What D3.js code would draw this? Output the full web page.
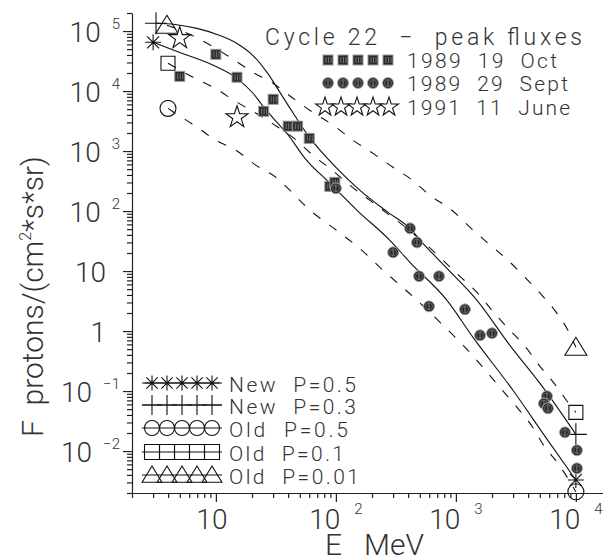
<!DOCTYPE html>
<meta charset="utf-8">
<script src="https://d3js.org/d3.v7.min.js"></script>
<style>
  body { margin: 0; background: #fff; }
  text { font-family: Roboto, "DejaVu Sans", sans-serif; font-weight: 300; fill: #333; white-space: pre; }
</style>
<body>
<div id="my_dataviz"></div>
<script>
// ---- values ----
// measured events (E in MeV, F in protons/(cm2*s*sr))
var oct19E  = [5, 10, 15, 25, 30, 40, 48, 60, 89, 98];
var oct19F  = [1.76e4, 4.1e4, 1.7e4, 4.6e3, 7.3e3, 2.6e3, 2.6e3, 1.63e3, 258, 301];
var sept29E = [100, 300, 415, 474, 493, 723, 597, 1190, 1590, 2000, 5740, 5420, 5850, 8110, 10200, 10200];
var sept29F = [239, 20.5, 51.5, 30, 8.2, 8.2, 2.58, 2.3, 0.85, 0.92, 0.082, 0.062, 0.0515, 0.0205, 0.0103, 0.00515];
var june11E = [5, 15];
var june11F = [7.6e4, 3.65e3];

// model curves
var newP05E = [3.0, 5.0, 9.5, 15, 20.4, 24.7, 32.3, 39.1, 55.3, 89.3, 150, 282, 414, 843, 1390, 2990, 5530, 1e4];
var newP05F = [6.5e4, 4.4e4, 2.7e4, 1.63e4, 9.2e3, 5.6e3, 3.0e3, 1.97e3, 757, 290, 103, 32.5, 14.0, 3.25, 0.785, 0.103, 0.0176, 0.0033];
var newP03E = [3.17, 4.56, 6.96, 10.2, 15, 20.4, 26.7, 34.2, 41.4, 58.6, 102, 159, 272, 414, 532, 843, 1500, 2820, 5320, 1e4];
var newP03F = [1.35e5, 1.29e5, 1.11e5, 8.8e4, 6.2e4, 3.9e4, 2.05e4, 9.5e3, 5.2e3, 1.83e3, 515, 221, 95, 51.5, 29, 11.1, 3.25, 0.578, 0.115, 0.019];
var oldP05E = [3.99, 4.48, 6.83, 10, 14.7, 21.6, 31.7, 41.4, 57.4, 115, 165, 233, 329, 456, 737, 1260, 1680, 2330, 3230, 4150, 5530, 7090, 1e4];
var oldP05F = [5.15e3, 4.4e3, 2.58e3, 1.51e3, 1.03e3, 578, 365, 221, 115, 39.4, 22.1, 11.5, 6.24, 3.51, 1.4, 0.477, 0.248, 0.115, 0.0536, 0.029, 0.0115, 0.00624, 0.0021];
var oldP01E = [3.99, 6.45, 9.83, 15, 22.4, 32.9, 43.9, 64.4, 89.3, 131, 192, 267, 391, 574, 781, 1080, 1500, 2000, 2720, 3770, 5020, 6700, 8590, 1e4];
var oldP01F = [2.9e4, 1.7e4, 1.11e4, 6.5e3, 4.1e3, 2.5e3, 1.69e3, 849, 515, 268, 151, 91.6, 51.5, 26.9, 15.1, 8.17, 4.42, 2.21, 1.11, 0.556, 0.258, 0.129, 0.065, 0.0441];
var oldP001E = [3.91, 6.08, 9.28, 13.6, 20.4, 29.9, 43.9, 64.4, 94.6, 139, 204, 299, 414, 608, 928, 1260, 1820, 2720, 3770, 5220, 6960, 8590, 1e4];
var oldP001F = [1.25e5, 8.8e4, 5.6e4, 3.5e4, 2.05e4, 1.35e4, 7.6e3, 4.4e3, 2.7e3, 1.51e3, 916, 536, 351, 183, 103, 57.8, 30.1, 15.1, 7.85, 3.94, 1.97, 1.03, 0.536];

// axis ticks and labels
var xMajor = [10, 100, 1000, 10000];
var xTickText = ["10", "10^2", "10^3", "10^4"];
var yMajor = [1e-2, 1e-1, 1, 10, 100, 1e3, 1e4, 1e5];
var yTickText = ["10^\u22122", "10^\u22121", "1", "10", "10^2", "10^3", "10^4", "10^5"];

var eventNames = ["1989  19  Oct", "1989  29  Sept", "1991  11  June"];
var modelNames = ["New  P=0.5", "New  P=0.3", "Old  P=0.5", "Old  P=0.1", "Old  P=0.01"];

// ---- chart ----
var margin = {top: 13, left: 132},
    width = 480,
    height = 480;

var svg = d3.select("#my_dataviz")
  .append("svg")
    .attr("width", 603)
    .attr("height", 560);
svg.append("rect").attr("width", 603).attr("height", 560).attr("fill", "#fff");

var g = svg.append("g")
    .attr("transform", "translate(" + margin.left + "," + margin.top + ")");

var x = d3.scaleLog().domain([2, 2e4]).range([0, width]);
var y = d3.scaleLog().domain([2e-3, 2e5]).range([height, 0]);

function minors(lo, hi) {
  var out = [];
  for (var d = -3; d <= 5; d++)
    for (var k = 2; k <= 9; k++) {
      var v = k * Math.pow(10, d);
      if (v >= lo * 0.999 && v <= hi * 1.001) out.push(v);
    }
  return out;
}

// axes
var axisStyle = function(sel) {
  sel.selectAll("path, line").attr("stroke", "#222").attr("stroke-width", 1.2);
};
g.append("g").attr("transform", "translate(0," + height + ")")
  .call(d3.axisBottom(x).tickValues(minors(2, 2e4)).tickSize(5).tickSizeOuter(0).tickFormat(""))
  .call(axisStyle);
g.append("g").attr("transform", "translate(0," + height + ")")
  .call(d3.axisBottom(x).tickValues(xMajor).tickSize(9).tickSizeOuter(0).tickFormat(""))
  .call(axisStyle).select(".domain").remove();
g.append("g")
  .call(d3.axisLeft(y).tickValues(minors(2e-3, 2e5)).tickSize(5).tickSizeOuter(0).tickFormat(""))
  .call(axisStyle);
g.append("g")
  .call(d3.axisLeft(y).tickValues(yMajor).tickSize(9).tickSizeOuter(0).tickFormat(""))
  .call(axisStyle).select(".domain").remove();

var labelSize = 28, expSize = 15;

// y tick labels
yMajor.forEach(function(v, i) {
  var parts = yTickText[i].split("^"), yy = y(v);
  if (parts.length == 2) {
    var ex = g.append("text").attr("x", -12).attr("y", yy - 2)
      .attr("text-anchor", "end").style("font-size", expSize + "px").text(parts[1]);
    var w = ex.node().getComputedTextLength();
    g.append("text").attr("x", -12 - w - 11).attr("y", yy + 11)
      .attr("text-anchor", "end").style("font-size", labelSize + "px").text(parts[0]);
  } else {
    g.append("text").attr("x", -26).attr("y", yy + 11)
      .attr("text-anchor", "end").style("font-size", labelSize + "px").text(parts[0]);
  }
});

// x tick labels
xMajor.forEach(function(v, i) {
  var parts = xTickText[i].split("^"), xx = x(v);
  var base = g.append("text").attr("y", height + 36)
    .style("font-size", labelSize + "px").text(parts[0]);
  var bw = base.node().getComputedTextLength();
  if (parts.length == 2) {
    var ex = g.append("text").attr("y", height + 21)
      .style("font-size", expSize + "px").text(parts[1]);
    var ew = ex.node().getComputedTextLength();
    var x0 = xx - (bw + 14 + ew) / 2;
    base.attr("x", x0);
    ex.attr("x", x0 + bw + 14);
  } else {
    base.attr("x", xx - bw / 2 - 4);
  }
});

// axis titles
g.append("text").attr("x", 193).attr("y", height + 62)
  .style("font-size", "30px").text("E   MeV");
var yt = svg.append("text")
  .attr("transform", "translate(43,437) rotate(-90)")
  .style("font-size", "30px");
yt.append("tspan").text("F  protons/(cm");
yt.append("tspan").attr("dy", -12).style("font-size", "16px").text("2");
yt.append("tspan").attr("dy", 12).text("*s*sr)");

// curves
var line = d3.line()
  .x(function(d) { return x(d[0]); })
  .y(function(d) { return y(d[1]); })
  .curve(d3.curveMonotoneX);

var curves = [
  {e: newP05E, f: newP05F, dash: null},
  {e: newP03E, f: newP03F, dash: null},
  {e: oldP05E, f: oldP05F, dash: "9,11"},
  {e: oldP01E, f: oldP01F, dash: "9,11"},
  {e: oldP001E, f: oldP001F, dash: "9,11"}
];
curves.forEach(function(c) {
  g.append("path")
    .datum(d3.zip(c.e, c.f))
    .attr("fill", "none")
    .attr("stroke", "#111")
    .attr("stroke-width", 1.1)
    .attr("stroke-dasharray", c.dash)
    .attr("d", line);
});

// marker shapes
var shapes = {
  asterisk: function(s) { var a = s * 0.75;
    return "M" + (-s) + ",0H" + s + "M0," + (-s) + "V" + s +
      "M" + (-a) + "," + (-a) + "L" + a + "," + a + "M" + (-a) + "," + a + "L" + a + "," + (-a); },
  plus: function(s) { return "M" + (-s) + ",0H" + s + "M0," + (-s) + "V" + s; },
  circle: function(s) { return "M" + s + ",0A" + s + "," + s + " 0 1,1 " + (-s) + ",0A" + s + "," + s + " 0 1,1 " + s + ",0"; },
  square: function(s) { return "M" + (-s) + "," + (-s) + "H" + s + "V" + s + "H" + (-s) + "Z"; },
  triangle: function(s) { return "M0," + (-s) + "L" + (s * 1.1) + "," + (s * 0.8) + "H" + (-s * 1.1) + "Z"; }
};
function drawShape(parent, kind, size, px, py) {
  parent.append("path")
    .attr("transform", "translate(" + px + "," + py + ")")
    .attr("d", shapes[kind](size))
    .attr("fill", "none")
    .attr("stroke", "#111")
    .attr("stroke-width", 1.1);
}

// model end markers
var models = [
  {kind: "asterisk", size: 8, e: newP05E, f: newP05F},
  {kind: "plus", size: 11, e: newP03E, f: newP03F},
  {kind: "circle", size: 8, e: oldP05E, f: oldP05F},
  {kind: "square", size: 7, e: oldP01E, f: oldP01F},
  {kind: "triangle", size: 10, e: oldP001E, f: oldP001F}
];
models.forEach(function(m) {
  [0, m.e.length - 1].forEach(function(j) {
    drawShape(g, m.kind, m.size, x(m.e[j]), y(m.f[j]));
  });
});

// measured markers
function drawSquareDot(parent, px, py) {
  var s = parent.append("g").attr("transform", "translate(" + px + "," + py + ")");
  s.append("rect").attr("x", -5).attr("y", -5).attr("width", 10).attr("height", 10)
    .attr("fill", "#2a2a2a").attr("stroke", "#999").attr("stroke-width", 1);
  [-2, 0.5, 3].forEach(function(dx) {
    s.append("line").attr("x1", dx).attr("x2", dx).attr("y1", -3).attr("y2", 3)
      .attr("stroke", "#888").attr("stroke-width", 0.8);
  });
}
function drawCircleDot(parent, px, py) {
  var s = parent.append("g").attr("transform", "translate(" + px + "," + py + ")");
  s.append("circle").attr("r", 5.5).attr("fill", "#2a2a2a").attr("stroke", "#aaa").attr("stroke-width", 1);
  s.append("circle").attr("r", 3.5).attr("fill", "none").attr("stroke", "#777").attr("stroke-width", 0.7);
  s.append("line").attr("y1", -3.5).attr("y2", 3.5).attr("stroke", "#999").attr("stroke-width", 0.8);
}
var star = d3.symbol().type(d3.symbolStar);
function drawStar(parent, px, py, sz) {
  parent.append("path")
    .attr("transform", "translate(" + px + "," + py + ")")
    .attr("d", star.size(sz)())
    .attr("fill", "#fff").attr("stroke", "#111").attr("stroke-width", 1.1);
}

oct19E.forEach(function(e, i) { drawSquareDot(g, x(e), y(oct19F[i])); });
sept29E.forEach(function(e, i) { drawCircleDot(g, x(e), y(sept29F[i])); });
june11E.forEach(function(e, i) { drawStar(g, x(e), y(june11F[i]), 150); });

// top-right legend
svg.append("text").attr("x", 265).attr("y", 45)
  .attr("textLength", 317).attr("lengthAdjust", "spacing")
  .style("font-size", "23px").text("Cycle 22  \u2212  peak fluxes");
var evRows = [60, 83, 107], evLen = [150, 161, 163];
evRows.forEach(function(ry, r) {
  for (var k = 0; k < 5; k++) {
    var px = 328 + 15 * k;
    if (r == 0) drawSquareDot(svg, px, ry);
    else if (r == 1) drawCircleDot(svg, px, ry);
    else drawStar(svg, 325 + 16 * k, ry, 110);
  }
  svg.append("text").attr("x", 407).attr("y", ry + 8)
    .attr("textLength", evLen[r]).attr("lengthAdjust", "spacing")
    .style("font-size", "21px").text(eventNames[r]);
});

// bottom-left legend
var mRows = [383, 405, 428, 452, 475], mLen = [127, 127, 119, 115, 130];
models.forEach(function(m, r) {
  var ry = mRows[r];
  svg.append("line").attr("x1", 142).attr("x2", 222).attr("y1", ry).attr("y2", ry)
    .attr("stroke", "#111").attr("stroke-width", 1.1);
  for (var k = 0; k < 5; k++) {
    drawShape(svg, m.kind, m.kind == "plus" ? 10 : (m.kind == "triangle" ? 9 : 7.5), 152 + 15 * k, ry);
  }
  svg.append("text").attr("x", 229).attr("y", ry + 9)
    .attr("textLength", mLen[r]).attr("lengthAdjust", "spacing")
    .style("font-size", "21px").text(modelNames[r]);
});
</script>
</body>
